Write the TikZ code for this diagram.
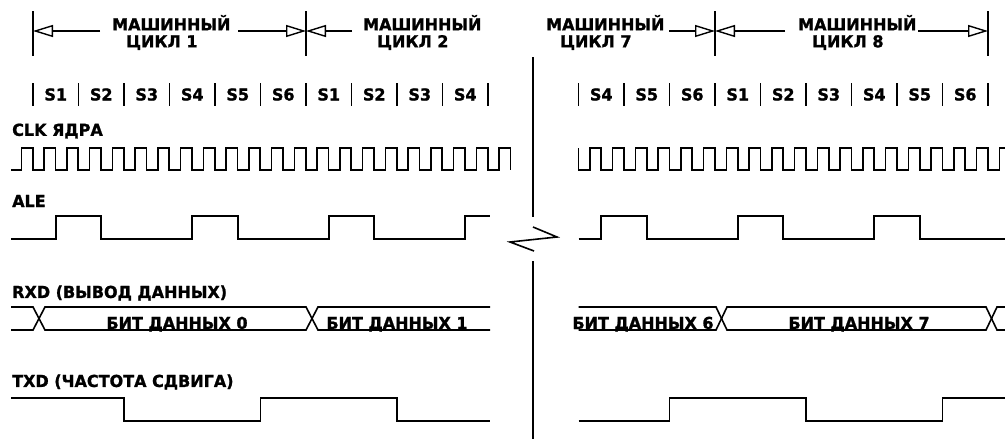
\documentclass[tikz,border=0pt]{standalone}
\usepackage{fontspec}
\newfontfamily\lblfont{DejaVu Sans}[FakeStretch=0.97, FakeBold=1.2]
\usepackage{xcolor}
\definecolor{ink}{HTML}{000000}
\usepackage{tikz}
\usetikzlibrary{arrows.meta,positioning}

\begin{document}
\begin{tikzpicture}[x=1pt, y=-1pt,
    sig/.style={ink, line width=1.6pt},
    lbl/.style={font={\lblfont\bfseries\fontsize{16.5}{17}\selectfont}, text=ink, inner sep=0pt},
    cyc/.style={ink, line width=1.4pt, -{Triangle[open, length=20pt, width=12pt]}}]
  \useasboundingbox (0,0) rectangle (1005,439);

  % Machine cycle marks
  \foreach \n/\x in {b0/33, b1/306, b7/715, b8/988} {
    \draw[sig] (\x,11) -- (\x,56);
    \coordinate (\n) at (\x,31);
  }
  \node[lbl, align=left, anchor=west] (m1) at (112,32.5) {МАШИННЫЙ\\\hspace*{14pt}ЦИКЛ 1};
  \node[lbl, align=left, anchor=west] (m2) at (363,32.5) {МАШИННЫЙ\\\hspace*{14pt}ЦИКЛ 2};
  \node[lbl, align=left, anchor=west] (m7) at (546,32.5) {МАШИННЫЙ\\\hspace*{14pt}ЦИКЛ 7};
  \node[lbl, align=left, anchor=west] (m8) at (798,32.5) {МАШИННЫЙ\\\hspace*{14pt}ЦИКЛ 8};
  \coordinate (a1) at (100,31);
  \coordinate (a2) at (238,31);
  \coordinate (a3) at (352,31);
  \coordinate (a4) at (669,31);
  \coordinate (a5) at (785,31);
  \coordinate (a6) at (918,31);
  \draw[cyc] (a1) -- (b0);
  \draw[cyc] (a2) -- (b1);
  \draw[cyc] (a3) -- (b1);
  \draw[cyc] (a4) -- (b7);
  \draw[cyc] (a5) -- (b7);
  \draw[cyc] (a6) -- (b8);

  % States
  \foreach \i in {0,...,10}
    \draw[sig] ({33+45.5*\i},83) -- ({33+45.5*\i},106);
  \foreach \s [count=\i from 0] in {S1,S2,S3,S4,S5,S6,S1,S2,S3,S4}
    \node[lbl] (sl\i) at ({55.75+45.5*\i},94.5) {\s};
  \foreach \i in {0,...,9}
    \draw[sig] ({578.5+45.5*\i},83) -- ({578.5+45.5*\i},106);
  \foreach \s [count=\i from 0] in {S4,S5,S6,S1,S2,S3,S4,S5,S6}
    \node[lbl] (sr\i) at ({601.25+45.5*\i},94.5) {\s};

  % Break
  \draw[sig] (533,57) -- (533,217);
  \draw[sig] (533,227) -- (557,237) -- (510,242) -- (534,251);
  \draw[sig] (533,261) -- (533,439);

  % CLK
  \node[lbl, anchor=west] (clk) at (12,131) {CLK ЯДРА};
  \draw[sig] (11,170) \foreach \k in {0,...,21} {
    -- ({21.3+22.75*\k},170) -- ({21.3+22.75*\k},148)
    -- ({32.7+22.75*\k},148) -- ({32.7+22.75*\k},170)};
  \draw[sig] (578.5,148) \foreach \k in {0,...,18} {
    -- ({578.5+22.75*\k},170) -- ({589.9+22.75*\k},170)
    -- ({589.9+22.75*\k},148) -- ({601.25+22.75*\k},148)};

  % ALE
  \node[lbl, anchor=west] (ale) at (12,201) {ALE};
  \draw[sig] (11,239) -- (55.75,239) -- (55.75,216) -- (101.25,216) -- (101.25,239)
    -- (192.25,239) -- (192.25,216) -- (237.75,216) -- (237.75,239)
    -- (328.75,239) -- (328.75,216) -- (374.25,216) -- (374.25,239)
    -- (465.25,239) -- (465.25,216) -- (490,216);
  \draw[sig] (578.5,239) -- (601.25,239) -- (601.25,216) -- (646.75,216) -- (646.75,239)
    -- (737.75,239) -- (737.75,216) -- (783.25,216) -- (783.25,239)
    -- (874.25,239) -- (874.25,216) -- (919.75,216) -- (919.75,239) -- (1005,239);

  % RXD
  \node[lbl, anchor=west] (rxd) at (12,293) {RXD (ВЫВОД ДАННЫХ)};
  \draw[sig] (11,307) -- (33,307) -- (45,330) -- (306,330) -- (318,307) -- (490,307);
  \draw[sig] (11,330) -- (33,330) -- (45,307) -- (306,307) -- (318,330) -- (490,330);
  \draw[sig] (578.5,307) -- (716,307) -- (727,330) -- (986,330) -- (997,307) -- (1005,307);
  \draw[sig] (578.5,330) -- (716,330) -- (727,307) -- (986,307) -- (997,330) -- (1005,330);
  \node[lbl, anchor=base] (d0) at (177,329) {БИТ ДАННЫХ 0};
  \node[lbl, anchor=base] (d1) at (397,329) {БИТ ДАННЫХ 1};
  \node[lbl, anchor=base] (d6) at (643,329) {БИТ ДАННЫХ 6};
  \node[lbl, anchor=base] (d7) at (859,329) {БИТ ДАННЫХ 7};

  % TXD
  \node[lbl, anchor=west] (txd) at (12,382) {TXD (ЧАСТОТА СДВИГА)};
  \draw[sig] (11,398) -- (124,398) -- (124,421) -- (260.5,421) -- (260.5,398)
    -- (397,398) -- (397,421) -- (490,421);
  \draw[sig] (578.5,421) -- (669.5,421) -- (669.5,398) -- (806,398) -- (806,421)
    -- (942.5,421) -- (942.5,398) -- (1005,398);
\end{tikzpicture}
\end{document}
